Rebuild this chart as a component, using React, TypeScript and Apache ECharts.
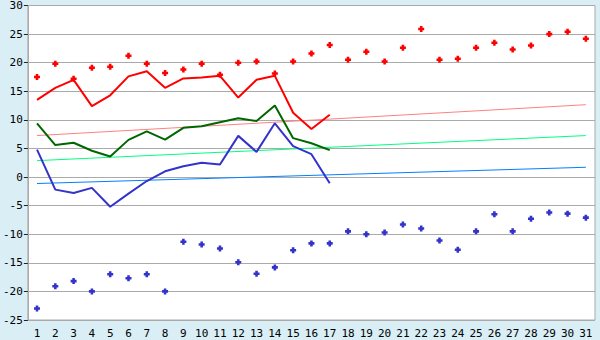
import React, { useEffect, useRef } from "react";
import * as echarts from "echarts";

const days = Array.from({ length: 31 }, (_, i) => String(i + 1));

const redMax = [17.5, 19.8, 17.2, 19.1, 19.3, 21.2, 19.8, 18.2, 18.8, 19.8, 17.9, 20.0, 20.2, 18.1, 20.2, 21.6, 23.1, 20.5, 21.9, 20.2, 22.6, 25.9, 20.5, 20.7, 22.6, 23.5, 22.3, 23.0, 25.0, 25.4, 24.2];
const blueMin = [-23.0, -19.1, -18.2, -20.0, -17.0, -17.7, -17.0, -20.0, -11.3, -11.8, -12.5, -14.9, -16.9, -15.8, -12.8, -11.6, -11.6, -9.5, -10.0, -9.7, -8.3, -9.0, -11.1, -12.7, -9.5, -6.5, -9.5, -7.3, -6.2, -6.4, -7.1];
const redLine = [13.5, 15.6, 17.0, 12.4, 14.3, 17.6, 18.5, 15.6, 17.25, 17.4, 17.7, 13.9, 17.0, 17.7, 11.25, 8.4, 10.9];
const greenLine = [9.4, 5.6, 6.0, 4.6, 3.6, 6.5, 8.0, 6.55, 8.6, 8.9, 9.6, 10.3, 9.8, 12.5, 6.8, 5.9, 4.7];
const blueLine = [4.8, -2.2, -2.8, -1.9, -5.2, -2.9, -0.7, 1.0, 1.9, 2.5, 2.2, 7.2, 4.4, 9.4, 5.4, 4.0, -1.1];
// trend line end points (day 1, day 31)
const redTrend = [7.25, 12.65];
const greenTrend = [2.87, 7.25];
const blueTrend = [-1.13, 1.71];

const yMin = -25;
const yMax = 30;
const yStep = 5;

const plus = "path://M2,0H5V2H7V5H5V7H2V5H0V2H2Z";

export default function App() {
  const ref = useRef<HTMLDivElement>(null);
  useEffect(() => {
    document.body.style.margin = "0";
    if (!ref.current) return;
    const chart = echarts.init(ref.current, undefined, { renderer: "svg" });
    const font = "DejaVu Sans Mono";
    const trend = (vals: number[], color: string) => ({
      type: "line",
      data: [
        [days[0], vals[0]],
        [days[days.length - 1], vals[1]],
      ],
      symbol: "none",
      lineStyle: { color, width: 1 },
      z: 1,
    });
    const line = (vals: number[], color: string) => ({
      type: "line",
      data: vals,
      symbol: "none",
      lineStyle: { color, width: 2 },
      z: 3,
    });
    const scatter = (vals: number[], color: string) => ({
      type: "scatter",
      data: vals,
      symbol: plus,
      symbolSize: 6,
      itemStyle: { color, opacity: 1 },
      z: 4,
    });
    chart.setOption({
      animation: false,
      backgroundColor: "#d9eef5",
      grid: {
        left: 26,
        right: 5,
        top: 5,
        bottom: 20,
        show: true,
        backgroundColor: "#ffffff",
        borderColor: "#aaaaaa",
        borderWidth: 1,
      },
      xAxis: {
        type: "category",
        data: days,
        boundaryGap: true,
        axisLine: { lineStyle: { color: "#aaaaaa" } },
        axisTick: { alignWithLabel: true, length: 6, lineStyle: { color: "#222" } },
        axisLabel: { color: "#000", fontFamily: font, fontSize: 11, margin: 8, interval: 0 },
        splitLine: { show: false },
      },
      yAxis: {
        type: "value",
        min: yMin,
        max: yMax,
        interval: yStep,
        axisLine: { show: true, lineStyle: { color: "#aaaaaa" } },
        axisTick: { show: true, length: 4, lineStyle: { color: "#222" } },
        axisLabel: { color: "#000", fontFamily: font, fontSize: 11, margin: 5 },
        splitLine: { lineStyle: { color: "#aaaaaa", width: 1 } },
      },
      series: [
        trend(redTrend, "#ff8080"),
        trend(greenTrend, "#00ff80"),
        trend(blueTrend, "#0080ff"),
        line(redLine, "#ff0000"),
        line(greenLine, "#006600"),
        line(blueLine, "#3333cc"),
        scatter(redMax, "#ff0000"),
        scatter(blueMin, "#3333cc"),
      ],
    });
    return () => chart.dispose();
  }, []);
  return <div ref={ref} style={{ width: 600, height: 340 }} />;
}
